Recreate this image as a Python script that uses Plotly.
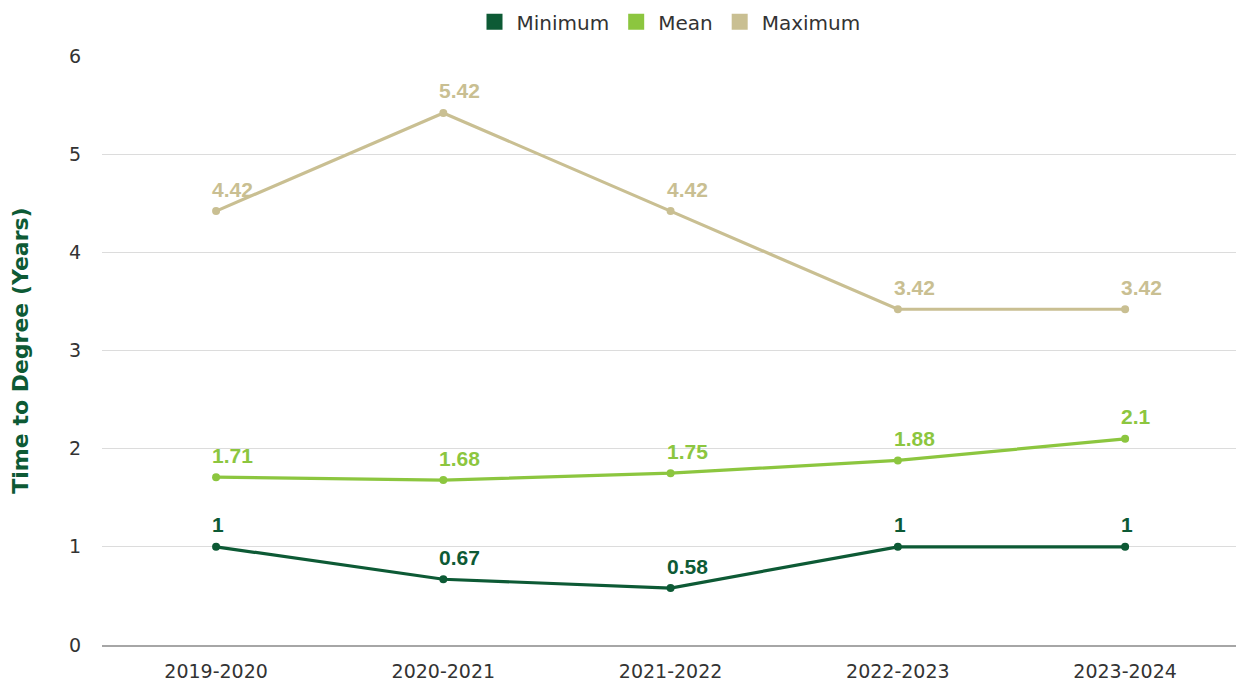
import plotly.graph_objects as go

# Academic years on the category axis
years = ["2019-2020", "2020-2021", "2021-2022", "2022-2023", "2023-2024"]

# Time to degree in years
minimum = [1, 0.67, 0.58, 1, 1]
mean = [1.71, 1.68, 1.75, 1.88, 2.1]
maximum = [4.42, 5.42, 4.42, 3.42, 3.42]

series = [
    ("Minimum", minimum, "#0d5a35"),
    ("Mean", mean, "#8cc63f"),
    ("Maximum", maximum, "#c9bf92"),
]

TICK_FONT = "DejaVu Sans, Liberation Sans, Arial, sans-serif"
LABEL_FONT = "Liberation Sans, Arial, sans-serif"

fig = go.Figure()
annotations = []

for name, values, color in series:
    fig.add_trace(go.Scatter(
        x=years, y=values, name=name, mode="lines+markers",
        line=dict(color=color, width=3.2),
        marker=dict(color=color, size=8),
        showlegend=False, hoverinfo="x+y",
    ))
    # square legend swatch
    fig.add_trace(go.Scatter(
        x=[None], y=[None], name=name, mode="markers",
        marker=dict(color=color, size=16, symbol="square"),
        showlegend=True,
    ))
    for yr, v in zip(years, values):
        annotations.append(dict(
            x=yr, y=v, xref="x", yref="y", text=f"{v:g}",
            showarrow=False, xanchor="left", yanchor="middle",
            xshift=-6, yshift=22,
            font=dict(family=LABEL_FONT, size=21, color=color, weight="bold"),
        ))

fig.update_layout(
    width=1236, height=684,
    margin=dict(l=102, r=0, t=56, b=39),
    paper_bgcolor="white", plot_bgcolor="white",
    annotations=annotations,
    legend=dict(
        orientation="h", x=0.5, xanchor="center", y=1.025, yanchor="bottom",
        font=dict(family=TICK_FONT, size=20, color="#333333"),
        itemwidth=34, traceorder="normal",
    ),
    xaxis=dict(
        type="category", range=[-0.502, 4.488],
        showgrid=False, showline=True, linecolor="#a6a6a6", linewidth=2,
        ticks="", ticklabelstandoff=8,
        tickfont=dict(family=TICK_FONT, size=19, color="#333333"),
    ),
    yaxis=dict(
        range=[0, 6], dtick=1, tick0=0,
        showgrid=True, gridcolor="#dcdcdc", gridwidth=1,
        zeroline=False, showline=False, ticks="", ticklabelstandoff=20,
        tickfont=dict(family=TICK_FONT, size=19, color="#333333"),
        title=dict(
            text="Time to Degree (Years)", standoff=34,
            font=dict(family="DejaVu Sans, sans-serif",
                      size=22, color="#0d5a35", weight="bold"),
        ),
    ),
)

fig.write_html("out.html")
